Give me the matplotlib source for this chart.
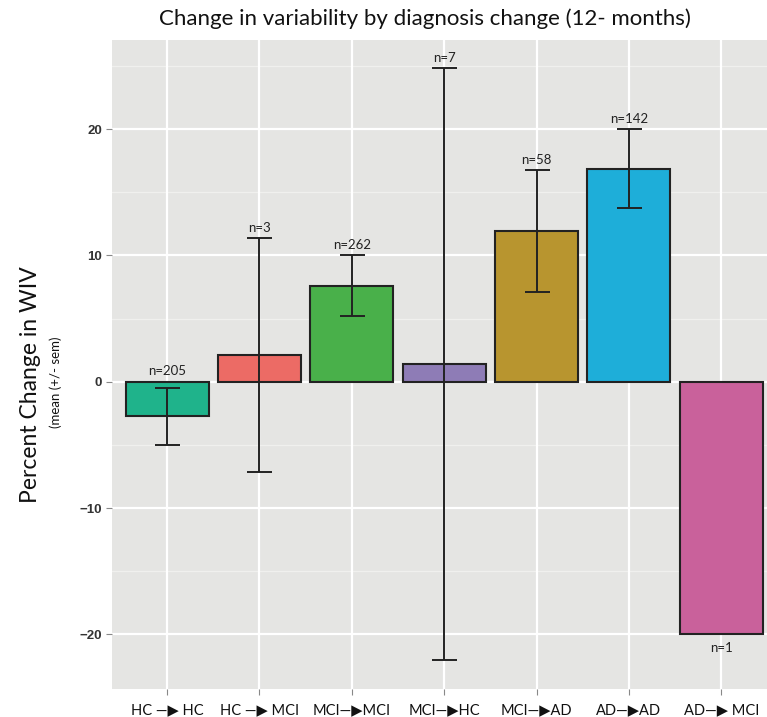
import matplotlib
matplotlib.use("Agg")
import matplotlib.pyplot as plt
import numpy as np

categories = ["HC \u2014\u25B6 HC", "HC \u2014\u25B6 MCI", "MCI\u2014\u25B6MCI", "MCI\u2014\u25B6HC",
              "MCI\u2014\u25B6AD", "AD\u2014\u25B6AD", "AD\u2014\u25B6 MCI"]
means = [-2.75, 2.1, 7.6, 1.4, 11.93, 16.85, -20.0]
sems = [2.28, 9.28, 2.4, 23.4, 4.83, 3.13, 0.0]
counts = [205, 3, 262, 7, 58, 142, 1]
colors = ["#1fb38b", "#ec6b65", "#49b04a", "#8e7cb6", "#b8952f", "#1eaed9", "#c9619b"]

W, H = 767, 717
fig = plt.figure(figsize=(W / 100, H / 100), dpi=100)
ax = fig.add_axes([111.7 / W, (H - 689.3) / H, (776.7 - 111.7) / W, (689.3 - 40) / H])
ax.set_facecolor("#e5e5e3")
for s in ax.spines.values():
    s.set_visible(False)

x = np.arange(len(categories))
ax.set_xlim(-0.6, len(categories) - 0.4)
ax.set_ylim(-24.35, 27.05)

# grid
for v in [-15, -5, 5, 15, 25]:
    ax.axhline(v, color="#f0f0ee", lw=0.9, zorder=0)
for v in [-20, -10, 0, 10, 20]:
    ax.axhline(v, color="white", lw=1.6, zorder=0)
for xi in x:
    ax.axvline(xi, color="white", lw=1.6, zorder=0)

ax.bar(x, means, width=0.9, color=colors, edgecolor="#222222", linewidth=1.5, zorder=2)
m = np.array(means)
s = np.array(sems)
has = s > 0
ax.errorbar(x[has], m[has], yerr=s[has], fmt="none", ecolor="#222222",
            elinewidth=1.4, capsize=9, capthick=1.4, zorder=3)

for xi, mi, si, n in zip(x, means, sems, counts):
    if mi < 0 and si == 0:
        ax.text(xi, mi - 0.6, f"n={n}", ha="center", va="top", fontsize=9.5,
                family=["Lato", "DejaVu Sans"], color="#222222", zorder=4)
    else:
        top = max(mi + si, 0)
        ax.text(xi, top + 0.35, f"n={n}", ha="center", va="bottom", fontsize=9.5,
                family=["Lato", "DejaVu Sans"], color="#222222", zorder=4)

ax.set_xticks(x)
ax.set_xticklabels(categories, family=["Lato", "DejaVu Sans"], fontsize=10.5, color="#111111")
ax.set_yticks([-20, -10, 0, 10, 20])
ax.set_yticklabels(["\u221220", "\u221210", "0", "10", "20"], fontsize=9.5, color="#333333",
                   family="Liberation Sans", fontweight="bold")
ax.tick_params(axis="both", length=4, color="#888888", width=0.8)
ax.tick_params(axis="x", pad=6)
ax.tick_params(axis="y", pad=3)

fig.text(425 / W, 1 - 19 / H, "Change in variability by diagnosis change (12- months)",
         ha="center", va="center", fontsize=16, family=["Lato", "DejaVu Sans"], color="#111111")
fig.text(31 / W, 1 - 385 / H, "Percent Change in WIV", rotation=90, ha="center", va="center",
         fontsize=16.5, family=["Lato", "DejaVu Sans"], color="#111111")
fig.text(56 / W, 1 - 382 / H, "(mean (+/- sem)", rotation=90, ha="center", va="center",
         fontsize=9.5, family=["Lato", "DejaVu Sans"], color="#111111")

fig.savefig("out.png", dpi=100, facecolor="white")
